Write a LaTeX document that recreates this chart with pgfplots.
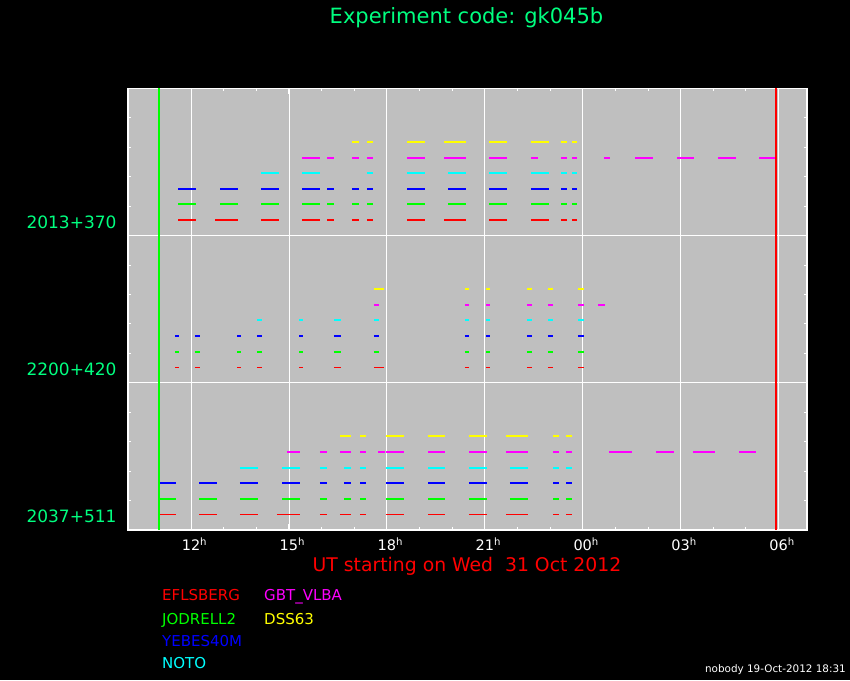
\documentclass[border=0pt]{standalone}
\usepackage{pgfplots}
\pgfplotsset{compat=1.18}
\usepackage{fontspec}
\setmainfont{DejaVu Sans}
\definecolor{pgreen}{RGB}{0,255,128}
\definecolor{pgray}{RGB}{191,191,191}
\definecolor{pred}{RGB}{255,0,0}
\definecolor{pgrn}{RGB}{0,255,0}
\definecolor{pblue}{RGB}{0,0,255}
\definecolor{pcyan}{RGB}{0,255,255}
\definecolor{pmag}{RGB}{255,0,255}
\definecolor{pyel}{RGB}{255,255,0}
\pgfplotsset{seg/.style={line width=2pt, mark=none}, thin seg/.style={line width=1pt, mark=none}}
\begin{document}
\begin{tikzpicture}[x=1pt,y=1pt]
\fill[black] (0,0) rectangle (850,680);
\begin{axis}[
  at={(128pt,150pt)}, anchor=south west,
  scale only axis, width=679pt, height=441.5pt,
  xmin=10.07, xmax=30.87, ymin=0, ymax=3,
  axis background/.style={fill=pgray},
  axis line style={white, line width=1.6pt},
  xtick={12,15,18,21,24,27,30}, minor x tick num=2,
  xticklabels={12\rlap{\textsuperscript{h}},15\rlap{\textsuperscript{h}},18\rlap{\textsuperscript{h}},21\rlap{\textsuperscript{h}},00\rlap{\textsuperscript{h}},03\rlap{\textsuperscript{h}},06\rlap{\textsuperscript{h}}},
  ytick={0,1,2,3}, yticklabels={,,,}, minor y tick num=4,
  extra y ticks={0.09,1.09,2.09},
  extra y tick labels={2037+511,2200+420,2013+370},
  extra y tick style={major tick length=0pt, grid=none},
  grid=major, major grid style={white, line width=0.8pt},
  tick align=inside, major tick length=6pt, minor tick length=3pt,
  every tick/.style={white, line width=1pt},
  xticklabel style={white, font=\fontsize{14.5}{14.5}\selectfont, anchor=north, yshift=-4pt},
  yticklabel style={pgreen, font=\fontsize{17}{17}\selectfont, anchor=east, xshift=-8pt},
  unbounded coords=jump,
]
% ---------- 2013+370 (top band) ----------
\addplot[seg,pred] coordinates {
(11.61,2.106)(12.15,2.106)(nan,nan)
(12.74,2.106)(13.44,2.106)(nan,nan)
(14.14,2.106)(14.70,2.106)(nan,nan)
(15.40,2.106)(15.95,2.106)(nan,nan)
(16.17,2.106)(16.38,2.106)(nan,nan)
(16.93,2.106)(17.15,2.106)(nan,nan)
(17.39,2.106)(17.57,2.106)(nan,nan)
(18.62,2.106)(19.17,2.106)(nan,nan)
(19.75,2.106)(20.42,2.106)(nan,nan)
(21.13,2.106)(21.68,2.106)(nan,nan)
(22.41,2.106)(22.96,2.106)(nan,nan)
(23.33,2.106)(23.52,2.106)(nan,nan)
(23.67,2.106)(23.82,2.106)
};
\addplot[seg,pgrn] coordinates {
(11.61,2.212)(12.15,2.212)(nan,nan)
(12.89,2.212)(13.44,2.212)(nan,nan)
(14.14,2.212)(14.70,2.212)(nan,nan)
(15.40,2.212)(15.95,2.212)(nan,nan)
(16.17,2.212)(16.38,2.212)(nan,nan)
(16.93,2.212)(17.15,2.212)(nan,nan)
(17.39,2.212)(17.57,2.212)(nan,nan)
(18.62,2.212)(19.17,2.212)(nan,nan)
(19.87,2.212)(20.42,2.212)(nan,nan)
(21.13,2.212)(21.68,2.212)(nan,nan)
(22.41,2.212)(22.96,2.212)(nan,nan)
(23.33,2.212)(23.52,2.212)(nan,nan)
(23.67,2.212)(23.82,2.212)
};
\addplot[seg,pblue] coordinates {
(11.61,2.318)(12.15,2.318)(nan,nan)
(12.89,2.318)(13.44,2.318)(nan,nan)
(14.14,2.318)(14.70,2.318)(nan,nan)
(15.40,2.318)(15.95,2.318)(nan,nan)
(16.17,2.318)(16.38,2.318)(nan,nan)
(16.93,2.318)(17.15,2.318)(nan,nan)
(17.39,2.318)(17.57,2.318)(nan,nan)
(18.62,2.318)(19.17,2.318)(nan,nan)
(19.87,2.318)(20.42,2.318)(nan,nan)
(21.13,2.318)(21.68,2.318)(nan,nan)
(22.41,2.318)(22.96,2.318)(nan,nan)
(23.33,2.318)(23.52,2.318)(nan,nan)
(23.67,2.318)(23.82,2.318)
};
\addplot[seg,pcyan] coordinates {
(14.14,2.424)(14.70,2.424)(nan,nan)
(15.40,2.424)(15.95,2.424)(nan,nan)
(17.39,2.424)(17.57,2.424)(nan,nan)
(18.62,2.424)(19.17,2.424)(nan,nan)
(19.87,2.424)(20.42,2.424)(nan,nan)
(21.13,2.424)(21.68,2.424)(nan,nan)
(22.41,2.424)(22.96,2.424)(nan,nan)
(23.33,2.424)(23.52,2.424)(nan,nan)
(23.67,2.424)(23.82,2.424)
};
\addplot[seg,pmag] coordinates {
(15.40,2.530)(15.95,2.530)(nan,nan)
(16.17,2.530)(16.38,2.530)(nan,nan)
(16.93,2.530)(17.15,2.530)(nan,nan)
(17.39,2.530)(17.57,2.530)(nan,nan)
(18.62,2.530)(19.17,2.530)(nan,nan)
(19.75,2.530)(20.42,2.530)(nan,nan)
(21.13,2.530)(21.68,2.530)(nan,nan)
(22.41,2.530)(22.63,2.530)(nan,nan)
(23.33,2.530)(23.52,2.530)(nan,nan)
(23.67,2.530)(23.82,2.530)(nan,nan)
(24.65,2.530)(24.83,2.530)(nan,nan)
(25.60,2.530)(26.15,2.530)(nan,nan)
(26.89,2.530)(27.41,2.530)(nan,nan)
(28.14,2.530)(28.69,2.530)(nan,nan)
(29.40,2.530)(29.95,2.530)
};
\addplot[seg,pyel] coordinates {
(16.93,2.636)(17.15,2.636)(nan,nan)
(17.39,2.636)(17.57,2.636)(nan,nan)
(18.62,2.636)(19.17,2.636)(nan,nan)
(19.75,2.636)(20.42,2.636)(nan,nan)
(21.13,2.636)(21.68,2.636)(nan,nan)
(22.41,2.636)(22.96,2.636)(nan,nan)
(23.33,2.636)(23.52,2.636)(nan,nan)
(23.67,2.636)(23.82,2.636)
};
% ---------- 2200+420 (middle band) ----------
\addplot[thin seg,pred] coordinates {
(11.51,1.106)(11.63,1.106)(nan,nan)
(12.12,1.106)(12.28,1.106)(nan,nan)
(13.41,1.106)(13.53,1.106)(nan,nan)
(14.02,1.106)(14.17,1.106)(nan,nan)
(15.31,1.106)(15.43,1.106)(nan,nan)
(16.38,1.106)(16.59,1.106)(nan,nan)
(17.60,1.106)(17.91,1.106)(nan,nan)
(20.39,1.106)(20.51,1.106)(nan,nan)
(21.04,1.106)(21.16,1.106)(nan,nan)
(22.29,1.106)(22.44,1.106)(nan,nan)
(22.93,1.106)(23.09,1.106)(nan,nan)
(23.85,1.106)(24.04,1.106)
};
\addplot[seg,pgrn] coordinates {
(11.51,1.212)(11.63,1.212)(nan,nan)
(12.12,1.212)(12.28,1.212)(nan,nan)
(13.41,1.212)(13.53,1.212)(nan,nan)
(14.02,1.212)(14.17,1.212)(nan,nan)
(15.31,1.212)(15.43,1.212)(nan,nan)
(16.38,1.212)(16.59,1.212)(nan,nan)
(17.60,1.212)(17.76,1.212)(nan,nan)
(20.39,1.212)(20.51,1.212)(nan,nan)
(21.04,1.212)(21.16,1.212)(nan,nan)
(22.29,1.212)(22.44,1.212)(nan,nan)
(22.93,1.212)(23.09,1.212)(nan,nan)
(23.85,1.212)(24.04,1.212)
};
\addplot[seg,pblue] coordinates {
(11.51,1.318)(11.63,1.318)(nan,nan)
(12.12,1.318)(12.28,1.318)(nan,nan)
(13.41,1.318)(13.53,1.318)(nan,nan)
(14.02,1.318)(14.17,1.318)(nan,nan)
(15.31,1.318)(15.43,1.318)(nan,nan)
(16.38,1.318)(16.59,1.318)(nan,nan)
(17.60,1.318)(17.76,1.318)(nan,nan)
(20.39,1.318)(20.51,1.318)(nan,nan)
(21.04,1.318)(21.16,1.318)(nan,nan)
(22.29,1.318)(22.44,1.318)(nan,nan)
(22.93,1.318)(23.09,1.318)(nan,nan)
(23.85,1.318)(24.04,1.318)
};
\addplot[seg,pcyan] coordinates {
(14.02,1.424)(14.17,1.424)(nan,nan)
(15.31,1.424)(15.43,1.424)(nan,nan)
(16.38,1.424)(16.59,1.424)(nan,nan)
(17.60,1.424)(17.76,1.424)(nan,nan)
(20.39,1.424)(20.51,1.424)(nan,nan)
(21.04,1.424)(21.16,1.424)(nan,nan)
(22.29,1.424)(22.44,1.424)(nan,nan)
(22.93,1.424)(23.09,1.424)(nan,nan)
(23.85,1.424)(24.04,1.424)
};
\addplot[seg,pmag] coordinates {
(17.60,1.530)(17.76,1.530)(nan,nan)
(20.39,1.530)(20.51,1.530)(nan,nan)
(21.04,1.530)(21.16,1.530)(nan,nan)
(22.29,1.530)(22.44,1.530)(nan,nan)
(22.93,1.530)(23.09,1.530)(nan,nan)
(23.85,1.530)(24.04,1.530)(nan,nan)
(24.47,1.530)(24.68,1.530)
};
\addplot[seg,pyel] coordinates {
(17.60,1.636)(17.91,1.636)(nan,nan)
(20.39,1.636)(20.51,1.636)(nan,nan)
(21.04,1.636)(21.16,1.636)(nan,nan)
(22.29,1.636)(22.44,1.636)(nan,nan)
(22.93,1.636)(23.09,1.636)(nan,nan)
(23.85,1.636)(24.04,1.636)
};
% ---------- 2037+511 (bottom band) ----------
\addplot[thin seg,pred] coordinates {
(10.99,0.106)(11.54,0.106)(nan,nan)
(12.25,0.106)(12.80,0.106)(nan,nan)
(13.50,0.106)(14.05,0.106)(nan,nan)
(14.63,0.106)(15.34,0.106)(nan,nan)
(15.95,0.106)(16.17,0.106)(nan,nan)
(16.56,0.106)(16.90,0.106)(nan,nan)
(17.18,0.106)(17.36,0.106)(nan,nan)
(17.97,0.106)(18.52,0.106)(nan,nan)
(19.26,0.106)(19.78,0.106)(nan,nan)
(20.51,0.106)(21.07,0.106)(nan,nan)
(21.65,0.106)(22.32,0.106)(nan,nan)
(23.09,0.106)(23.27,0.106)(nan,nan)
(23.49,0.106)(23.67,0.106)
};
\addplot[seg,pgrn] coordinates {
(10.99,0.212)(11.54,0.212)(nan,nan)
(12.25,0.212)(12.80,0.212)(nan,nan)
(13.50,0.212)(14.05,0.212)(nan,nan)
(14.79,0.212)(15.34,0.212)(nan,nan)
(15.95,0.212)(16.17,0.212)(nan,nan)
(16.69,0.212)(16.90,0.212)(nan,nan)
(17.18,0.212)(17.36,0.212)(nan,nan)
(17.97,0.212)(18.52,0.212)(nan,nan)
(19.26,0.212)(19.78,0.212)(nan,nan)
(20.51,0.212)(21.07,0.212)(nan,nan)
(21.77,0.212)(22.32,0.212)(nan,nan)
(23.09,0.212)(23.27,0.212)(nan,nan)
(23.49,0.212)(23.67,0.212)
};
\addplot[seg,pblue] coordinates {
(10.99,0.318)(11.54,0.318)(nan,nan)
(12.25,0.318)(12.80,0.318)(nan,nan)
(13.50,0.318)(14.05,0.318)(nan,nan)
(14.79,0.318)(15.34,0.318)(nan,nan)
(15.95,0.318)(16.17,0.318)(nan,nan)
(16.69,0.318)(16.90,0.318)(nan,nan)
(17.18,0.318)(17.36,0.318)(nan,nan)
(17.97,0.318)(18.52,0.318)(nan,nan)
(19.26,0.318)(19.78,0.318)(nan,nan)
(20.51,0.318)(21.07,0.318)(nan,nan)
(21.77,0.318)(22.32,0.318)(nan,nan)
(23.09,0.318)(23.27,0.318)(nan,nan)
(23.49,0.318)(23.67,0.318)
};
\addplot[seg,pcyan] coordinates {
(13.50,0.424)(14.05,0.424)(nan,nan)
(14.79,0.424)(15.34,0.424)(nan,nan)
(15.95,0.424)(16.17,0.424)(nan,nan)
(16.69,0.424)(16.90,0.424)(nan,nan)
(17.18,0.424)(17.36,0.424)(nan,nan)
(17.97,0.424)(18.52,0.424)(nan,nan)
(19.26,0.424)(19.78,0.424)(nan,nan)
(20.51,0.424)(21.07,0.424)(nan,nan)
(21.77,0.424)(22.32,0.424)(nan,nan)
(23.09,0.424)(23.27,0.424)(nan,nan)
(23.49,0.424)(23.67,0.424)
};
\addplot[seg,pmag] coordinates {
(14.94,0.530)(15.34,0.530)(nan,nan)
(15.95,0.530)(16.17,0.530)(nan,nan)
(16.56,0.530)(16.90,0.530)(nan,nan)
(17.18,0.530)(17.36,0.530)(nan,nan)
(17.73,0.530)(17.94,0.530)(nan,nan)
(17.97,0.530)(18.52,0.530)(nan,nan)
(19.26,0.530)(19.78,0.530)(nan,nan)
(20.51,0.530)(21.07,0.530)(nan,nan)
(21.65,0.530)(22.32,0.530)(nan,nan)
(23.09,0.530)(23.27,0.530)(nan,nan)
(23.49,0.530)(23.67,0.530)(nan,nan)
(24.80,0.530)(25.51,0.530)(nan,nan)
(26.24,0.530)(26.79,0.530)(nan,nan)
(27.37,0.530)(28.05,0.530)(nan,nan)
(28.78,0.530)(29.30,0.530)
};
\addplot[seg,pyel] coordinates {
(16.56,0.636)(16.90,0.636)(nan,nan)
(17.18,0.636)(17.36,0.636)(nan,nan)
(17.97,0.636)(18.52,0.636)(nan,nan)
(19.26,0.636)(19.78,0.636)(nan,nan)
(20.51,0.636)(21.07,0.636)(nan,nan)
(21.65,0.636)(22.32,0.636)(nan,nan)
(23.09,0.636)(23.27,0.636)(nan,nan)
(23.49,0.636)(23.67,0.636)
};
% ---------- start / end markers ----------
\addplot[line width=2pt, pgrn, mark=none] coordinates {(11.02,0)(11.02,3)};
\addplot[line width=2pt, pred, mark=none] coordinates {(29.91,0)(29.91,3)};
\end{axis}
% titles and legend text
\node[anchor=base, pgreen, font=\fontsize{21}{21}\selectfont] at (466.5,656) {Experiment code: gk045b};
\node[anchor=base, pred, font=\fontsize{18.8}{18.8}\selectfont] at (467,108.5) {UT starting on Wed\ \ 31 Oct 2012};
\begin{scope}[every node/.style={anchor=base west, inner sep=0pt, font=\fontsize{15}{15}\selectfont}]
\node[pred] at (162,79.3) {EFLSBERG};
\node[pgrn] at (162,56) {JODRELL2};
\node[pblue] at (162,33.3) {YEBES40M};
\node[pcyan] at (162,11.7) {NOTO};
\node[pmag] at (264,79.3) {GBT\_VLBA};
\node[pyel] at (264,56) {DSS63};
\end{scope}
\node[anchor=base east, inner sep=0pt, white, font=\fontsize{10.4}{10.4}\selectfont] at (846,7.5) {nobody 19-Oct-2012 18:31};
\end{tikzpicture}
\end{document}
